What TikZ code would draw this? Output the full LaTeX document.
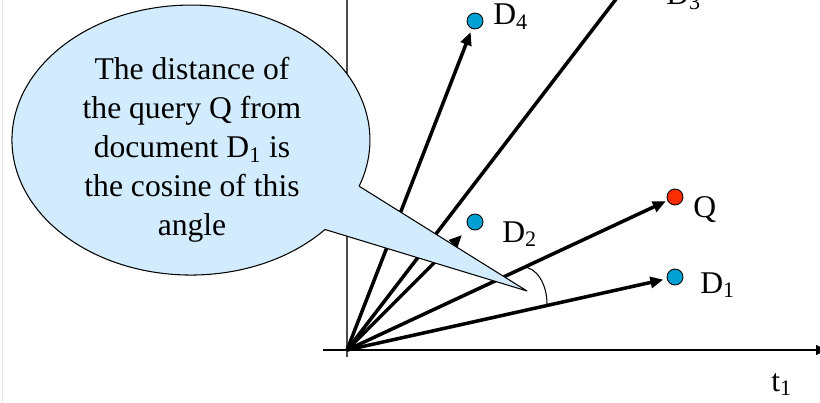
\documentclass[tikz,border=0pt]{standalone}
\usepackage{fontspec}
\setmainfont{Liberation Serif}
\usepackage{tikz}
\usetikzlibrary{arrows.meta}
\usepackage{xcolor}

\definecolor{calloutblue}{RGB}{210,236,253}
\definecolor{docblue}{RGB}{0,160,210}
\definecolor{queryred}{RGB}{250,45,5}

\begin{document}
\begin{tikzpicture}[
  x=0.02cm,
  y=-0.02cm,
  line join=round,
  label/.style={font=\fontsize{18}{22}\selectfont,inner sep=0pt},
  notetext/.style={font=\fontsize{18}{22.2}\selectfont,align=center,inner sep=0pt},
  vector/.style={line width=2pt,-{Triangle[length=0.26cm,width=0.22cm]}},
  axisline/.style={line width=0.9pt},
  docdot/.style={circle,draw=black,line width=0.5pt,fill=docblue,
    minimum size=0.32cm,inner sep=0pt},
  querydot/.style={docdot,fill=queryred},
  callout/.style={draw=black,line width=0.6pt,fill=calloutblue}
]
  \useasboundingbox (0,0) rectangle (820,402);
  \clip (0,0) rectangle (820,402);

  % faint frame edge on the left
  \draw[black!10,line width=0.5pt] (2,0) -- (2,402);

  % Axes
  \coordinate (origin) at (347,350);
  \draw[axisline,black!70] (347,0) -- (347,357);
  \draw[axisline,-{Triangle[length=0.2cm,width=0.2cm]}] (323,350) -- (826,350);

  % Documents and query
  \node[docdot] (d1) at (675,277) {};
  \node[querydot] (q) at (675,197) {};
  \node[docdot] (d2) at (475,222) {};
  \node[docdot] (d4) at (475,21) {};
  \coordinate (d3) at (682,-87);

  \draw[vector,shorten >=2pt] (origin) -- (d1);
  \draw[vector,shorten >=1pt] (origin) -- (q);
  \draw[vector,shorten >=0.2cm] (origin) -- (d2);
  \draw[vector,shorten >=2pt] (origin) -- (d4);
  \draw[line width=2pt] (origin) -- (d3);

  % Angle between Q and D1
  \draw[line width=0.6pt] (547,304) arc[start angle=0,end angle=-90,
    x radius=24,y radius=37];

  % Callout with its pointer
  \draw[callout] (527,291) -- (325,229.5)
    arc[start angle=41.5,end angle=380,x radius=179,y radius=135] -- cycle;
  \node[notetext] (note) at (192,150)
    {The distance of\\the query Q from\\document D\textsubscript{1} is\\
     the cosine of this\\angle};

  % Labels
  \node[label,anchor=base west] (d1lbl) at (700,293) {D\textsubscript{1}};
  \node[label,anchor=base west] (qlbl) at (693,217) {Q};
  \node[label,anchor=base west] (d2lbl) at (502,242) {D\textsubscript{2}};
  \node[label,anchor=base west] (d4lbl) at (493,25) {D\textsubscript{4}};
  \node[label,anchor=base west] (d3lbl) at (666,5) {D\textsubscript{3}};
  \node[label,anchor=base west] (t1lbl) at (771,391) {t\textsubscript{1}};

\end{tikzpicture}
\end{document}
